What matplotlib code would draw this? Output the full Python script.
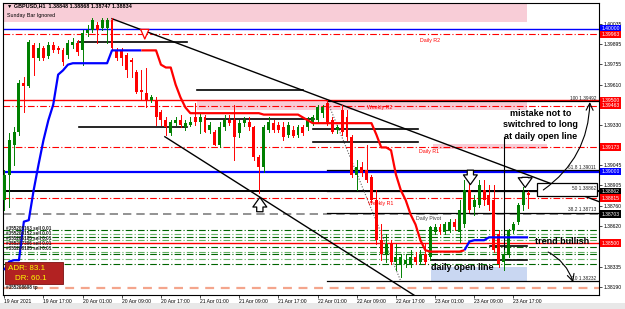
import matplotlib
matplotlib.use("Agg")
import matplotlib.pyplot as plt
from matplotlib.patches import Rectangle
import matplotlib.transforms as mtransforms

plt.rcParams['font.family'] = ['Liberation Sans', 'DejaVu Sans']

# ---------------- data ----------------
bar_open = [1.3880, 1.3898, 1.3919, 1.3928, 1.3962, 1.3960, 1.3989, 1.3980, 1.3987, 1.3981,
            1.3989, 1.3987, 1.3985, 1.3982, 1.3989, 1.3990, 1.3985, 1.3997, 1.3999, 1.4003,
            1.4001, 1.4001, 1.4006, 1.3985, 1.3985, 1.3982, 1.3978, 1.3970, 1.3957, 1.3955,
            1.3950, 1.3950, 1.3942, 1.3936, 1.3927, 1.3934, 1.3936, 1.3931, 1.3933, 1.3938,
            1.3935, 1.3938, 1.3929, 1.3928, 1.3919, 1.3931, 1.3936, 1.3936, 1.3927, 1.3934,
            1.3935, 1.3931, 1.3910, 1.3903, 1.3929, 1.3934, 1.3933, 1.3931, 1.3926, 1.3929,
            1.3926, 1.3931, 1.3931, 1.3934, 1.3936, 1.3941, 1.3948, 1.3936, 1.3929, 1.3943,
            1.3938, 1.3924, 1.3898, 1.3903, 1.3901, 1.3896, 1.3880, 1.3852, 1.3842, 1.3849,
            1.3837, 1.3835, 1.3835, 1.3835, 1.3840, 1.3837, 1.3842, 1.3840, 1.3858, 1.3861,
            1.3858, 1.3859, 1.3865, 1.3858, 1.3863, 1.3887, 1.3875, 1.3877, 1.3887, 1.3884,
            1.3880, 1.3856, 1.3837, 1.3842, 1.3859, 1.3865, 1.3877, 1.38848]
bar_high = [1.3901, 1.3927, 1.3931, 1.3964, 1.3966, 1.3992, 1.3990, 1.3990, 1.3988, 1.3991,
            1.3991, 1.3988, 1.3987, 1.3992, 1.3994, 1.3992, 1.3999, 1.4003, 1.4008, 1.4005,
            1.4008, 1.4008, 1.4008, 1.3987, 1.3987, 1.3983, 1.3980, 1.3971, 1.3971, 1.3973,
            1.3954, 1.3952, 1.3943, 1.3938, 1.3936, 1.3938, 1.3940, 1.3936, 1.3938, 1.3948,
            1.3941, 1.3940, 1.3935, 1.3929, 1.3935, 1.3940, 1.3940, 1.3947, 1.3936, 1.3938,
            1.3938, 1.3932, 1.3912, 1.3933, 1.3938, 1.3936, 1.3935, 1.3935, 1.3935, 1.3932,
            1.3933, 1.3933, 1.3938, 1.3940, 1.3947, 1.3947, 1.3950, 1.3938, 1.3933, 1.3947,
            1.3943, 1.3926, 1.3908, 1.3907, 1.3919, 1.3898, 1.3887, 1.3863, 1.3856, 1.3852,
            1.3849, 1.3842, 1.3842, 1.3845, 1.3844, 1.3845, 1.3849, 1.3862, 1.3863, 1.3863,
            1.3865, 1.3867, 1.3867, 1.3880, 1.3894, 1.3892, 1.3884, 1.3894, 1.3894, 1.3891,
            1.3891, 1.3859, 1.3845, 1.3860, 1.3865, 1.3878, 1.3889, 1.38868]
bar_low = [1.3873, 1.3875, 1.3905, 1.3926, 1.3942, 1.3959, 1.3968, 1.3978, 1.3978, 1.3980,
           1.3984, 1.3983, 1.3975, 1.3980, 1.3987, 1.3982, 1.3975, 1.3995, 1.3998, 1.3990,
           1.3999, 1.3990, 1.3985, 1.3978, 1.3975, 1.3966, 1.3966, 1.3955, 1.3950, 1.3945,
           1.3949, 1.3933, 1.3933, 1.3926, 1.3926, 1.3933, 1.3931, 1.3929, 1.3932, 1.3933,
           1.3927, 1.3928, 1.3927, 1.3919, 1.3917, 1.3929, 1.3933, 1.3908, 1.3924, 1.3932,
           1.3929, 1.3908, 1.3885, 1.3900, 1.3928, 1.3928, 1.3928, 1.3922, 1.3924, 1.3924,
           1.3924, 1.3926, 1.3929, 1.3933, 1.3935, 1.3938, 1.3933, 1.3927, 1.3927, 1.3926,
           1.3922, 1.3896, 1.3887, 1.3897, 1.3893, 1.3879, 1.3849, 1.3838, 1.3837, 1.3835,
           1.3831, 1.3826, 1.3833, 1.3833, 1.3835, 1.3835, 1.3835, 1.3838, 1.3856, 1.3856,
           1.3856, 1.3858, 1.3859, 1.3851, 1.3861, 1.3872, 1.3870, 1.3875, 1.3877, 1.3873,
           1.3844, 1.3833, 1.3831, 1.3840, 1.3857, 1.3863, 1.3873, 1.38747]
bar_close = [1.3898, 1.3922, 1.3928, 1.3962, 1.3960, 1.3991, 1.3980, 1.3987, 1.3980, 1.3989,
             1.3985, 1.3985, 1.3977, 1.3990, 1.3991, 1.3984, 1.3997, 1.3999, 1.4006, 1.3999,
             1.4006, 1.4006, 1.3987, 1.3980, 1.3980, 1.3971, 1.3977, 1.3956, 1.3956, 1.3950,
             1.3952, 1.3938, 1.3936, 1.3931, 1.3935, 1.3936, 1.3933, 1.3934, 1.3935, 1.3935,
             1.3938, 1.3928, 1.3933, 1.3919, 1.3931, 1.3936, 1.3934, 1.3924, 1.3934, 1.3936,
             1.3931, 1.3910, 1.3903, 1.3931, 1.3935, 1.3929, 1.3929, 1.3924, 1.3933, 1.3925,
             1.3931, 1.3927, 1.3936, 1.3938, 1.3945, 1.3945, 1.3935, 1.3928, 1.3931, 1.3928,
             1.3924, 1.3898, 1.3903, 1.3899, 1.3894, 1.3880, 1.3852, 1.3842, 1.3849, 1.3837,
             1.3840, 1.3840, 1.3838, 1.3840, 1.3837, 1.3842, 1.3837, 1.3861, 1.3861, 1.3858,
             1.3863, 1.3865, 1.3861, 1.3873, 1.3887, 1.3873, 1.3880, 1.3891, 1.3880, 1.3877,
             1.3845, 1.3835, 1.3842, 1.3859, 1.3863, 1.3877, 1.3886, 1.38834]

trend_line = [1.3831, 1.3837, 1.3838, 1.3838, 1.3865, 1.3866, 1.3887, 1.3905, 1.3922, 1.3936,
              1.3947, 1.3968, 1.3971, 1.3975, 1.3976, 1.3976, 1.3976, 1.3976, 1.3976, 1.3976,
              1.3976, 1.3976, 1.3985, 1.3985, 1.3985, 1.3985, 1.3985, 1.3985, 1.3985, 1.3985,
              1.3985, 1.3985, 1.3975, 1.3973, 1.3973, 1.3961, 1.3952, 1.3945, 1.3941, 1.3941,
              1.3941, 1.3941, 1.3941, 1.3941, 1.3941, 1.3941, 1.3941, 1.3941, 1.3941, 1.3941,
              1.3941, 1.3941, 1.3941, 1.3940, 1.3940, 1.3940, 1.3940, 1.3940, 1.3940, 1.3940,
              1.3940, 1.3938, 1.3936, 1.3934, 1.3934, 1.3934, 1.3934, 1.3934, 1.3934, 1.3934,
              1.3934, 1.3934, 1.3934, 1.3934, 1.3934, 1.3934, 1.3926, 1.3917, 1.3917, 1.3915,
              1.3898, 1.3887, 1.3880, 1.3870, 1.3863, 1.3852, 1.3845, 1.3844, 1.3844, 1.3844,
              1.3844, 1.3844, 1.3844, 1.3844, 1.3845, 1.3851, 1.3852, 1.3852, 1.3852, 1.3854,
              1.3854, 1.3854, 1.3854, 1.3854, 1.3854, 1.3854, 1.3854, 1.3854]
trend_flip_bars = [28, 94]   # bar where the trend line changes colour

time_tick_bars = [0, 8, 16, 24, 32, 40, 48, 56, 64, 72, 80, 88, 96, 104]
time_tick_labels = ["19 Apr 2021", "19 Apr 17:00", "20 Apr 01:00", "20 Apr 09:00",
                    "20 Apr 17:00", "21 Apr 01:00", "21 Apr 09:00", "21 Apr 17:00",
                    "22 Apr 01:00", "22 Apr 09:00", "22 Apr 17:00", "23 Apr 01:00",
                    "23 Apr 09:00", "23 Apr 17:00"]

grid_prices = [1.40035, 1.39895, 1.39755, 1.39610, 1.39330, 1.39045, 1.38905,
               1.38760, 1.38620, 1.38335, 1.38190]

blue_levels = [1.40000, 1.39000]
red_solid_levels = [1.39500, 1.38500]
red_dashdot_levels = [1.39963, 1.39463, 1.39173, 1.38815]
black_level = 1.38862
gray_level = 1.38703
salmon_level = 1.38185
order_levels = [1.3859, 1.3856, 1.3854, 1.3852, 1.3847, 1.3844, 1.3842, 1.3839, 1.3835]
order_labels = ["#355205163 sell 0.01", "#355206152 sell 0.01", "#355206185 sell 0.01",
                "#355207396 sell 0.01", "#355208185 sell 0.01", "#355208698 tp"]
order_label_prices = [1.3860, 1.3857, 1.3853, 1.3850, 1.3846, 1.3819]

fib_levels = [1.39492, 1.39011, 1.38862, 1.38713, 1.38232]
fib_names = ["100", "61.8", "50", "38.2", "0.0"]
fib_anchor_bars = [66, 81]

# short horizontal black lines: (start bar, end bar, price)
seg_start = [15.0, 15.3, 39.3, 41.0, 63.1, 63.1, 99.3, 87.1]
seg_end = [37.3, 37.3, 61.1, 63.3, 84.5, 84.5, 106.8, 106.8]
seg_price = [1.3991, 1.3931, 1.3957, 1.3937, 1.3930, 1.3921, 1.3848, 1.3838]

# vertical marker line: bar, price range
vline_bar = 102.0
vline_prices = [1.3838, 1.3924]

# trend lines (bar, price) pairs
tl_a = [(22.0, 1.40072), (121.5, 1.38790)]
tl_b = [(32.8, 1.39245), (84.1, 1.38126)]

# hand drawn arrows (bar, price) start -> end
hand_arrows = [((110.1, 1.38872), (119.6, 1.39488), 0.25),
               ((111.1, 1.38437), (116.2, 1.38225), -0.2)]

# labelled price boxes on the right axis
box_prices = [1.40000, 1.39963, 1.39500, 1.39463, 1.39173, 1.39000, 1.38862, 1.38815, 1.38703, 1.38500]
box_kinds = ["blue", "red", "red", "red", "red", "blue", "black", "red", "black", "red"]

# ---------------- figure ----------------
W, H = 625, 309
fig = plt.figure(figsize=(W / 100, H / 100), dpi=100)
L, R, T, B = 3, 599, 3, 295
ax = fig.add_axes([L / W, 1 - B / H, (R - L) / W, (B - T) / H])
px_per_bar = 4.917
x1 = (R - 1.7) / px_per_bar
ax.set_xlim(-0.26, x1)
ax.set_ylim(1.38136, 1.40182)
xl = ax.get_xlim()

ax.set_facecolor("white")
for s in ax.spines.values():
    s.set_linewidth(0.8)
    s.set_color("black")

# pink / blue bands
ax.add_patch(Rectangle((xl[0], 1.40049), 106.8 - xl[0], 1.40182 - 1.40049, color="#F8CDD7", zorder=0, lw=0))
ax.add_patch(Rectangle((39.3, 1.39432), 106.8 - 39.3, 1.39495 - 1.39432, color="#F9CCD6", zorder=0, lw=0))
ax.add_patch(Rectangle((87.5, 1.39159), 110.9 - 87.5, 1.39194 - 1.39159, color="#F9CCD6", zorder=0, lw=0))
ax.add_patch(Rectangle((87.1, 1.3823), 106.8 - 87.1, 1.3833 - 1.3823, color="#C9D7F2", zorder=0, lw=0))

# full width levels
for p in blue_levels:
    ax.axhline(p, color="#0000FF", lw=1.0 if p > 1.3950 else 1.6, zorder=2)
for p in red_solid_levels:
    ax.axhline(p, color="#FF0000", lw=1.0, zorder=2)
for p in red_dashdot_levels:
    ax.axhline(p, color="#FF0000", lw=0.8, ls=(0, (6, 2, 1, 2)), zorder=2)
ax.axhline(black_level, color="black", lw=1.4, zorder=2)
ax.axhline(gray_level, color="#808080", lw=1.2, ls=(0, (5, 3)), zorder=2)
ax.axhline(salmon_level, color="#F4A58C", lw=1.6, ls=(0, (4, 3)), zorder=2)
for k, p in enumerate(order_levels):
    col = "#006400" if k % 2 == 0 else "#66B266"
    ax.axhline(p, color=col, lw=0.8, ls=(0, (6, 2, 1, 2)), zorder=2)

# fib levels
for p in fib_levels:
    ax.plot([fib_anchor_bars[0], xl[1]], [p, p], color="black", lw=0.9, zorder=2)
ax.plot(fib_anchor_bars, [fib_levels[0], fib_levels[-1]], color="#606060", lw=0.8, ls=(0, (1, 1.5)), zorder=3)

for s0, s1, p in zip(seg_start, seg_end, seg_price):
    ax.plot([s0, s1], [p, p], color="black", lw=1.2, zorder=3)
ax.plot([vline_bar, vline_bar], vline_prices, color="black", lw=0.8, zorder=3)

for tl in (tl_a, tl_b):
    ax.plot([tl[0][0], tl[1][0]], [tl[0][1], tl[1][1]], color="black", lw=1.0, zorder=3)

# candles
for i, (o, h, l, c) in enumerate(zip(bar_open, bar_high, bar_low, bar_close)):
    col = "#008000" if c >= o else "#FF0000"
    ax.plot([i, i], [l, h], color=col, lw=0.7, zorder=4)
    lo, hi = min(o, c), max(o, c)
    ax.add_patch(Rectangle((i - 0.3, lo), 0.6, max(hi - lo, 0.00002), color=col, lw=0, zorder=5))

# trend line
n = len(trend_line)
xs = list(range(n))
cuts = [0] + trend_flip_bars + [n - 1]
cols = ["#0000FF", "#FF0000", "#0000FF"]
for k in range(len(cuts) - 1):
    a, b = cuts[k], cuts[k + 1]
    ax.plot(xs[a:b + 1], trend_line[a:b + 1], color=cols[k], lw=1.6, zorder=6, solid_capstyle="butt")

# hollow arrows
def hollow_arrow(xb, ytail, ytip, ec="black", w=1.0):
    ax.annotate("", xy=(xb, ytip), xytext=(xb, ytail),
                arrowprops=dict(arrowstyle="simple,head_width=%g,head_length=0.7,tail_width=%g" % (1.0 * w, 0.45 * w),
                                fc="white", ec=ec, lw=0.9), zorder=8)

hollow_arrow(52.2, 1.3870, 1.3884)
hollow_arrow(95.2, 1.3903, 1.3889)
hollow_arrow(106.4, 1.3898, 1.3887)
hollow_arrow(28.7, 1.3998, 1.3991, ec="#FF0000", w=0.6)

# hand drawn arrows
for (s, e, rad) in hand_arrows:
    ax.annotate("", xy=e, xytext=s,
                arrowprops=dict(arrowstyle="->,head_width=0.25,head_length=0.5", color="black", lw=0.8,
                                connectionstyle="arc3,rad=%g" % rad, shrinkA=0, shrinkB=0), zorder=9)

# box around the 50% fib label
ax.add_patch(Rectangle((108.9, 1.38829), x1 - 0.4 - 108.9, 1.38921 - 1.38829, fc="white", ec="black",
                       lw=0.9, zorder=8))

# level labels
lab_kw = dict(fontsize=3.8, zorder=9)
ax.text(85.0, 1.3992, "Daily R2", color="#FF0000", va="center", **lab_kw)
ax.text(74.0, 1.3945, "Weekly R2", color="#FF0000", va="center", **lab_kw)
ax.text(84.7, 1.3914, "Daily R1", color="#FF0000", va="center", **lab_kw)
ax.text(74.3, 1.3878, "Weekly R1", color="#FF0000", va="center", **lab_kw)
ax.text(84.0, 1.3867, "Daily Pivot", color="#404040", va="center", **lab_kw)
for p, nm in zip(fib_levels, fib_names):
    ax.text(x1 - 0.6, p + 0.00004, "%s %.5f" % (nm, p), fontsize=3.4, ha="right", va="bottom",
            color="#202020", zorder=9)

# annotations
ann_kw = dict(fontsize=6.5, fontweight="bold", color="black", zorder=10)
ax.text(109.5, 1.3941, "mistake not to", ha="center", va="center", **ann_kw)
ax.text(109.5, 1.3933, "switchred to long", ha="center", va="center", **ann_kw)
ax.text(109.5, 1.3925, "at daily open line", ha="center", va="center", **ann_kw)
ax.text(108.5, 1.3851, "trend bullish", ha="left", va="center", **ann_kw)
ax.text(87.1, 1.3833, "daily open line", ha="left", va="center", **ann_kw)

# order labels
for t, yp in zip(order_labels, order_label_prices):
    ax.text(0.3, yp, t, fontsize=3.3, fontweight="bold", color="#202020", va="center", zorder=9)

# right axis
ax.yaxis.tick_right()
ax.set_yticks(grid_prices)
ax.set_yticklabels(["%.5f" % p for p in grid_prices])
ax.tick_params(axis="y", labelsize=3.6, length=2, width=0.5, pad=1)
trans = mtransforms.blended_transform_factory(ax.transAxes, ax.transData)
kind_col = {"blue": "#0000FF", "red": "#FF0000", "black": "#000000"}
for p, k in zip(box_prices, box_kinds):
    ax.text(1.004, p, "%.5f" % p, transform=trans, fontsize=3.6, color="white", va="center", ha="left",
            bbox=dict(boxstyle="square,pad=0.25", fc=kind_col[k], ec="none"), zorder=10, clip_on=False)

# time axis
ax.set_xticks(time_tick_bars)
ax.set_xticklabels(time_tick_labels)
ax.tick_params(axis="x", labelsize=3.6, length=2, width=0.5, pad=1)
for lab in ax.get_xticklabels():
    lab.set_horizontalalignment("left")

# header
ax.text(0.5, 1.40165, "\u25BC GBPUSD,H1  1.38848 1.38868 1.38747 1.38834", fontsize=3.9, fontweight="bold",
        va="center", ha="left", zorder=9)
ax.text(0.5, 1.40095, "Sunday Bar Ignored", fontsize=3.9, va="center", ha="left", zorder=9)

# ADR box
fig.patches.append(Rectangle((5 / W, 1 - 284 / H), 58 / W, 22 / H, transform=fig.transFigure,
                             fc="#B22222", ec="#7a1010", lw=0.6, zorder=20))
fig.text(8 / W, 1 - 268 / H, "ADR: 83.1", fontsize=5.8, color="#FFFF00", va="center", ha="left", zorder=21)
fig.text(15 / W, 1 - 278.5 / H, "DR: 60.1", fontsize=5.8, color="#FFFF00", va="center", ha="left", zorder=21)

# tab strip
fig.patches.append(Rectangle((0, 0), 1, 6 / H, transform=fig.transFigure, fc="#E8E8E8", ec="none", zorder=1))

fig.savefig("out.png", dpi=100)
